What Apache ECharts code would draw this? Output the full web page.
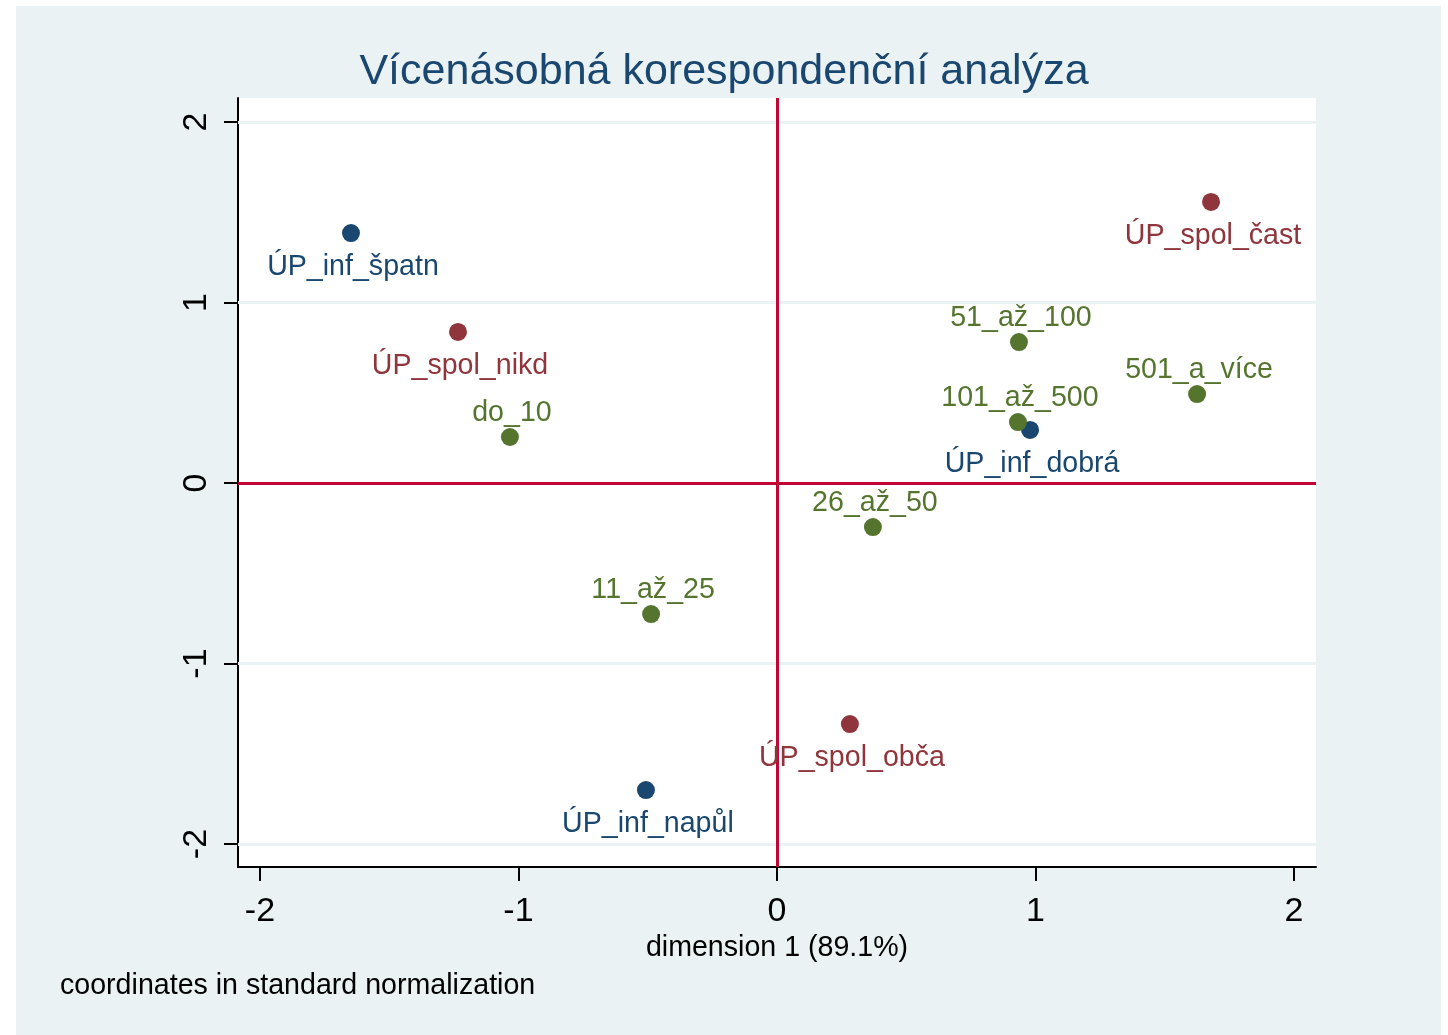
<!DOCTYPE html>
<html><head><meta charset="utf-8">
<script src="https://cdn.jsdelivr.net/npm/echarts@6/dist/echarts.min.js"></script>
<style>html,body{margin:0;padding:0;background:#fff}#c{width:1448px;height:1035px}</style>
</head><body><div id="c"></div>
<script>
const titleText = 'Vícenásobná korespondenční analýza';
const xAxisTitle = 'dimension 1 (89.1%)';
const noteText = 'coordinates in standard normalization';
const xTicks = [-2, -1, 0, 1, 2];
const yTicks = [-2, -1, 0, 1, 2];

const infNames = ['ÚP_inf_špatn', 'ÚP_inf_dobrá', 'ÚP_inf_napůl'];
const infX = [-1.648, 0.979, -0.507];
const infY = [1.385, 0.294, -1.701];

const spolNames = ['ÚP_spol_nikd', 'ÚP_spol_čast', 'ÚP_spol_obča'];
const spolX = [-1.234, 1.679, 0.282];
const spolY = [0.837, 1.557, -1.335];

const sizeNames = ['do_10', '11_až_25', '26_až_50', '51_až_100', '101_až_500', '501_a_více'];
const sizeX = [-1.033, -0.487, 0.371, 0.936, 0.932, 1.625];
const sizeY = [0.255, -0.726, -0.244, 0.781, 0.338, 0.493];

const FONT = 'Liberation Sans, Arial, sans-serif';
const BG = '#eaf2f3';

function mk(names, xs, ys) {
  return names.map((n, i) => ({ name: n, value: [xs[i], ys[i]] }));
}
function scatter(name, color, data, pos, dist) {
  return {
    name, type: 'scatter', data, symbolSize: 18, z: 5,
    itemStyle: { color, opacity: 1 },
    label: {
      show: true, position: pos, distance: dist, offset: [2, 0],
      formatter: p => p.name, color, fontSize: 28.6, fontFamily: FONT
    },
    emphasis: { disabled: true }
  };
}

const chart = echarts.init(document.getElementById('c'), null, { renderer: 'canvas' });
chart.setOption({
  backgroundColor: '#fff',
  animation: false,
  graphic: [
    { type: 'rect', z: -10, silent: true, shape: { x: 16, y: 6, width: 1425, height: 1029 }, style: { fill: BG } },
    { type: 'text', left: 60, top: 972, z: 10, style: { text: noteText, fill: '#000', font: '28.6px ' + FONT } }
  ],
  title: {
    text: titleText, left: 'center', top: 46,
    textStyle: { color: '#1a476f', fontSize: 43, fontWeight: 'normal', fontFamily: FONT }
  },
  grid: {
    left: 238, right: 132, top: 98, bottom: 168,
    show: true, backgroundColor: '#fff', borderWidth: 0, z: 0
  },
  xAxis: {
    type: 'value', min: -2.085, max: 2.085,
    name: xAxisTitle, nameLocation: 'middle', nameGap: 58,
    nameTextStyle: { color: '#000', fontSize: 28.6, fontFamily: FONT },
    axisLine: { show: true, onZero: false, lineStyle: { color: '#000', width: 2 } },
    axisTick: { show: true, length: 14, customValues: xTicks, lineStyle: { color: '#000', width: 2 } },
    axisLabel: { customValues: xTicks, color: '#000', fontSize: 34, fontFamily: FONT, margin: 28 },
    splitLine: { show: false }
  },
  yAxis: {
    type: 'value', min: -2.127, max: 2.133,
    axisLine: { show: true, onZero: false, lineStyle: { color: '#000', width: 2 } },
    axisTick: { show: true, length: 14, customValues: yTicks, lineStyle: { color: '#000', width: 2 } },
    axisLabel: { customValues: yTicks, rotate: 90, color: '#000', fontSize: 34, fontFamily: FONT, margin: 24 },
    splitLine: { show: false }
  },
  series: [
    {
      type: 'line', data: [], silent: true,
      markLine: {
        silent: true, symbol: 'none', label: { show: false },
        lineStyle: { color: BG, width: 3, type: 'solid' },
        data: yTicks.map(v => ({ yAxis: v }))
      },
      z: 1
    },
    {
      type: 'line', data: [], silent: true,
      markLine: {
        silent: true, symbol: 'none', label: { show: false },
        lineStyle: { color: '#c10534', width: 3, type: 'solid' },
        data: [{ xAxis: 0 }, { yAxis: 0 }]
      },
      z: 2
    },
    scatter('inf', '#1a476f', mk(infNames, infX, infY), 'bottom', 11),
    scatter('spol', '#90353b', mk(spolNames, spolX, spolY), 'bottom', 11),
    scatter('size', '#55752f', mk(sizeNames, sizeX, sizeY), 'top', 0)
  ]
});
</script></body></html>
